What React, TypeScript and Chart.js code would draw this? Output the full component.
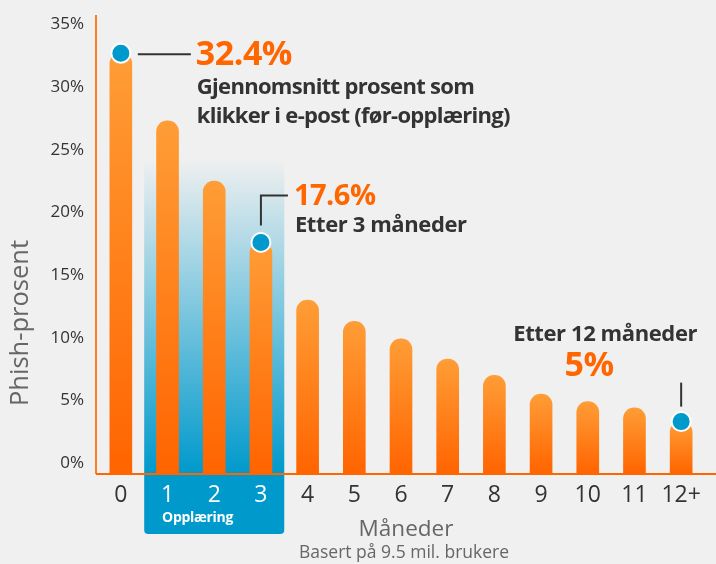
import React, { useEffect, useRef } from "react";
import { Chart, registerables } from "chart.js";

Chart.register(...registerables);

const categories = ["0", "1", "2", "3", "4", "5", "6", "7", "8", "9", "10", "11", "12+"];
const phishRates = [32.7, 27.3, 22.5, 17.6, 13.0, 11.3, 9.9, 8.3, 7.0, 5.5, 4.9, 4.4, 3.3];
const highlightedIndices = [0, 3, 12];
const trainingIndices = [1, 2, 3];
const yTicks = [0, 5, 10, 15, 20, 25, 30, 35];
const yMin = -0.88;
const yMax = 35.75;
const bandTopValue = 24.3;

const FONT = '"Open Sans", "Noto Sans", sans-serif';
const ORANGE = "#ff6600";
const BLUE = "#0099cc";
const DARK = "#333333";
const GREY = "#666666";

const decorPlugin = {
  id: "decor",
  beforeDraw(chart: any) {
    const { ctx, chartArea, scales } = chart;
    const x = scales.x;
    const y = scales.y;
    ctx.save();
    ctx.fillStyle = "#f0f0f0";
    ctx.fillRect(0, 0, chart.width, chart.height);
    const cw = x.getPixelForValue(1) - x.getPixelForValue(0);
    const left = x.getPixelForValue(trainingIndices[0]) - cw / 2;
    const right = x.getPixelForValue(trainingIndices[trainingIndices.length - 1]) + cw / 2;
    const top = y.getPixelForValue(bandTopValue);
    const bottom = chartArea.bottom;
    const g = ctx.createLinearGradient(0, top, 0, bottom);
    g.addColorStop(0, "rgba(240,240,240,1)");
    g.addColorStop(1, BLUE);
    ctx.fillStyle = g;
    ctx.fillRect(left, top, right - left, bottom - top);
    ctx.fillStyle = BLUE;
    ctx.beginPath();
    (ctx as any).roundRect(left, bottom, right - left, 60, [0, 0, 4, 4]);
    ctx.fill();
    ctx.restore();
  },
  afterDraw(chart: any) {
    const { ctx, chartArea, scales } = chart;
    const x = scales.x;
    const y = scales.y;
    const axisX = chartArea.left - 1.5;
    ctx.save();
    // axis lines
    ctx.strokeStyle = "#ff7d22";
    ctx.lineWidth = 2;
    ctx.beginPath();
    ctx.moveTo(axisX, chartArea.top);
    ctx.lineTo(axisX, chartArea.bottom);
    ctx.stroke();
    ctx.strokeStyle = ORANGE;
    ctx.beginPath();
    ctx.moveTo(axisX, chartArea.bottom);
    ctx.lineTo(chart.width, chartArea.bottom);
    ctx.stroke();

    // training label
    const p1 = x.getPixelForValue(1);
    ctx.fillStyle = "#ffffff";
    ctx.font = `700 14px ${FONT}`;
    ctx.textAlign = "center";
    ctx.textBaseline = "middle";
    (ctx as any).letterSpacing = "-0.3px";
    ctx.fillText("Opplæring", p1 + 30, chartArea.bottom + 44);
    (ctx as any).letterSpacing = "0px";

    // axis titles
    ctx.fillStyle = GREY;
    ctx.font = `400 22.5px ${FONT}`;
    ctx.fillText("Måneder", (chartArea.left + chartArea.right) / 2 + 5, chartArea.bottom + 56);
    ctx.font = `400 17.5px ${FONT}`;
    ctx.fillText("Basert på 9.5 mil. brukere", (chartArea.left + chartArea.right) / 2 + 3, chartArea.bottom + 79);
    ctx.save();
    ctx.translate(21, 323);
    ctx.rotate(-Math.PI / 2);
    ctx.font = `400 25.5px ${FONT}`;
    ctx.fillText("Phish-prosent", 0, 0);
    ctx.restore();

    // annotations
    ctx.strokeStyle = DARK;
    ctx.lineWidth = 2;
    // bar 0
    const a0x = x.getPixelForValue(0);
    const a0y = y.getPixelForValue(phishRates[0]);
    ctx.beginPath();
    ctx.moveTo(a0x + 17, a0y + 1);
    ctx.lineTo(a0x + 70, a0y + 1);
    ctx.stroke();
    ctx.textAlign = "left";
    ctx.fillStyle = ORANGE;
    ctx.font = `700 34px ${FONT}`;
    (ctx as any).letterSpacing = "-0.5px";
    ctx.fillText("32.4%", a0x + 75, a0y + 2);
    ctx.fillStyle = DARK;
    ctx.font = `700 22px ${FONT}`;
    (ctx as any).letterSpacing = "-0.7px";
    ctx.fillText("Gjennomsnitt prosent som", a0x + 76, a0y + 35);
    ctx.fillText("klikker i e-post (før-opplæring)", a0x + 76, a0y + 64);

    // bar 3
    const a3x = x.getPixelForValue(3);
    const a3y = y.getPixelForValue(phishRates[3]);
    ctx.beginPath();
    ctx.moveTo(a3x, a3y - 17);
    ctx.lineTo(a3x, a3y - 47);
    ctx.lineTo(a3x + 27, a3y - 47);
    ctx.stroke();
    ctx.fillStyle = ORANGE;
    ctx.font = `700 29px ${FONT}`;
    (ctx as any).letterSpacing = "-0.5px";
    ctx.fillText("17.6%", a3x + 33, a3y - 46);
    ctx.fillStyle = DARK;
    ctx.font = `700 22px ${FONT}`;
    (ctx as any).letterSpacing = "-0.4px";
    ctx.fillText("Etter 3 måneder", a3x + 34, a3y - 17);

    // bar 12+
    const a12x = x.getPixelForValue(12);
    const a12y = y.getPixelForValue(phishRates[12]);
    ctx.beginPath();
    ctx.moveTo(a12x, a12y - 39);
    ctx.lineTo(a12x, a12y - 15);
    ctx.stroke();
    ctx.textAlign = "center";
    ctx.fillStyle = DARK;
    ctx.font = `700 22px ${FONT}`;
    ctx.fillText("Etter 12 måneder", a12x - 76, a12y - 87);
    ctx.fillStyle = ORANGE;
    ctx.font = `700 34px ${FONT}`;
    ctx.fillText("5%", a12x - 92, a12y - 55);
    (ctx as any).letterSpacing = "0px";
    ctx.restore();
  },
};

export default function App() {
  const canvasRef = useRef<HTMLCanvasElement | null>(null);

  useEffect(() => {
    if (!canvasRef.current) return;
    const dots = categories.map((_, i) => (highlightedIndices.includes(i) ? phishRates[i] : null));
    const chart = new Chart(canvasRef.current, {
      type: "bar",
      data: {
        labels: categories,
        datasets: [
          {
            type: "line",
            data: dots,
            showLine: false,
            order: 0,
            pointRadius: 9.5,
            pointHoverRadius: 9.5,
            pointBackgroundColor: BLUE,
            pointBorderColor: "#ffffff",
            pointBorderWidth: 2,
            borderColor: "#ffffff",
          } as any,
          {
            type: "bar",
            data: phishRates,
            order: 1,
            base: yMin,
            barThickness: 22,
            borderRadius: 11,
            borderWidth: 0,
            backgroundColor: (c: any) => {
              const ch = c.chart;
              if (!ch.chartArea || c.type !== "data") return "#ff8020";
              const ys = ch.scales.y;
              const top = ys.getPixelForValue(c.parsed.y);
              const bot = ys.getPixelForValue(yMin);
              const g = ch.ctx.createLinearGradient(0, top, 0, bot);
              g.addColorStop(0, "#ff9d36");
              g.addColorStop(1, "#ff6400");
              return g;
            },
          } as any,
        ],
      },
      options: {
        animation: false,
        responsive: false,
        layout: { padding: { top: 15, right: 8.5, left: 1.5, bottom: 0 } },
        plugins: { legend: { display: false }, tooltip: { enabled: false } },
        scales: {
          x: {
            grid: { display: false, drawTicks: false },
            border: { display: false },
            afterFit: (s: any) => {
              s.height = 90;
              s.paddingLeft = 0;
              s.paddingRight = 0;
            },
            ticks: {
              padding: 8,
              font: { family: FONT, size: 23 },
              color: (c: any) => (trainingIndices.includes(c.index) ? "#ffffff" : DARK),
              maxRotation: 0,
              autoSkip: false,
            },
          },
          y: {
            min: yMin,
            max: yMax,
            grid: { display: false, drawTicks: false },
            border: { display: false },
            afterFit: (s: any) => {
              s.width = 96;
              s.paddingTop = 0;
              s.paddingBottom = 0;
            },
            afterBuildTicks: (s: any) => {
              s.ticks = yTicks.map((v) => ({ value: v }));
            },
            ticks: {
              padding: 13.5,
              font: { family: FONT, size: 17 },
              color: DARK,
              callback: (v: any) => `${v}%`,
            },
          },
        },
      },
      plugins: [decorPlugin],
    });
    return () => chart.destroy();
  }, []);

  return (
    <div style={{ position: "absolute", left: 0, top: 0, width: 716, height: 564, background: "#f0f0f0" }}>
      <canvas ref={canvasRef} width={716} height={564} style={{ width: 716, height: 564, display: "block" }} />
    </div>
  );
}
